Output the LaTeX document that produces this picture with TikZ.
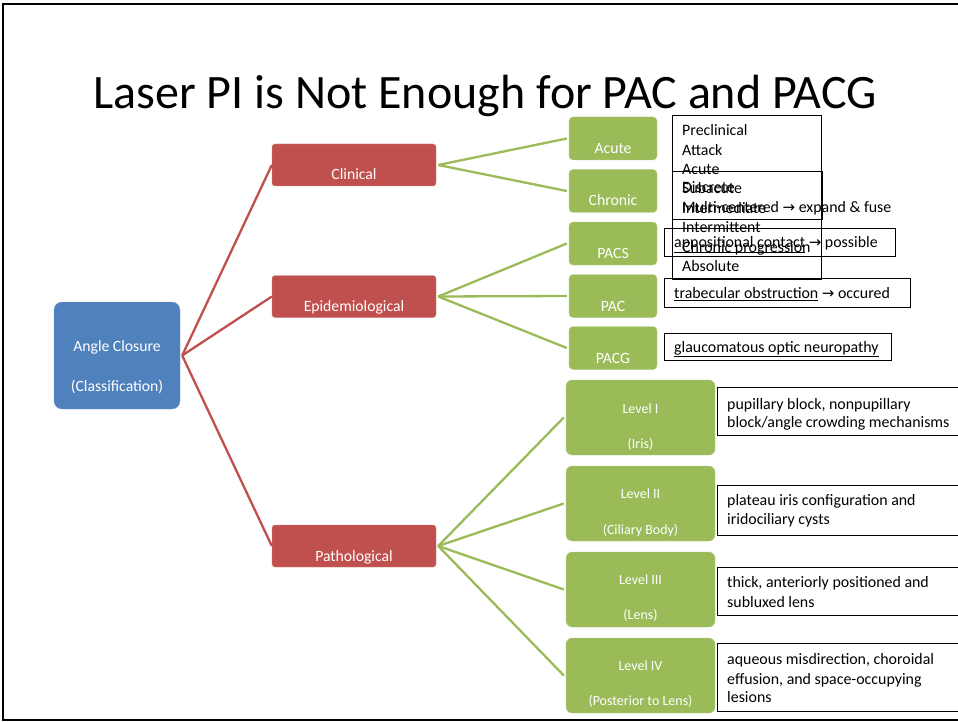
\documentclass[tikz,border=0pt]{standalone}
\usepackage{fontspec}
\setmainfont{Carlito}
\newfontfamily\arrfont{DejaVu Sans}
\definecolor{cblue}{HTML}{4F81BD}
\definecolor{cred}{HTML}{C0504D}
\definecolor{cgreen}{HTML}{9BBB59}
\newcommand{\rarr}{{\arrfont\fontsize{15}{17}\selectfont →}}
\begin{document}
\begin{tikzpicture}[x=1pt,y=-1pt,
  rootbox/.style={fill=cblue,draw=cblue!70!white,rounded corners=8pt,minimum width=126pt,minimum height=107pt,inner sep=0pt},
  redbox/.style={fill=cred,draw=cred!70!white,rounded corners=3pt,minimum width=164pt,minimum height=42pt,inner sep=0pt},
  greenbox/.style={fill=cgreen,draw=cgreen!70!white,rounded corners=4pt,minimum width=88pt,minimum height=43pt,inner sep=0pt},
  levelbox/.style={fill=cgreen,draw=cgreen!70!white,rounded corners=6pt,minimum width=149pt,minimum height=75pt,inner sep=0pt},
  wtext/.style={text=white,font=\fontsize{15.7}{18}\selectfont,inner sep=0pt,text height=13pt,text depth=1pt},
  wsmall/.style={text=white,font=\fontsize{14}{16}\selectfont,inner sep=0pt,text height=12pt,text depth=1pt},
  descbox/.style={draw=black,line width=0.8pt,inner sep=0pt},
  dtext/.style={anchor=west,font=\fontsize{15.9}{19}\selectfont,inner sep=0pt,text height=13pt,text depth=1.5pt},
  redline/.style={draw=cred,line width=2.3pt},
  greenline/.style={draw=cgreen,line width=2.3pt}]
\useasboundingbox (0,0) rectangle (958,722);
\fill[white] (0,0) rectangle (958,722);
% frame
\draw[line width=2pt] (958,4) -- (3,4) -- (3,720) -- (958,720);
% title
\node[font=\fontsize{48}{54}\selectfont,inner sep=0pt] (title) at (485,96) {Laser PI is Not Enough for PAC and PACG};
% root
\node[rootbox] (root) at (117,355.5) {};
\node[wtext] (rootA) at (117,345) {Angle Closure};
\node[wtext] (rootB) at (117,385) {(Classification)};
% red boxes
\node[redbox] (clin) at (354,165) {};
\node[wtext] (clinT) at (354,174) {Clinical};
\node[redbox] (epi) at (354,296.5) {};
\node[wtext] (epiT) at (354,305) {Epidemiological};
\node[redbox] (path) at (354,546) {};
\node[wtext] (pathT) at (354,555) {Pathological};
% green boxes
\node[greenbox] (acute) at (613,138.5) {};
\node[wtext] (acuteT) at (613,148) {Acute};
\node[greenbox] (chron) at (613,191) {};
\node[wtext] (chronT) at (613,200) {Chronic};
\node[greenbox] (pacs) at (613,243.5) {};
\node[wtext] (pacsT) at (613,252) {PACS};
\node[greenbox] (pac) at (613,296) {};
\node[wtext] (pacT) at (613,305) {PAC};
\node[greenbox] (pacg) at (613,348) {};
\node[wtext] (pacgT) at (613,357) {PACG};
% level boxes
\node[levelbox] (l1) at (640.5,417.5) {};
\node[wsmall] (l1a) at (640.5,408) {Level I};
\node[wsmall] (l1b) at (640.5,443) {(Iris)};
\node[levelbox] (l2) at (640.5,503.5) {};
\node[wsmall] (l2a) at (640.5,493) {Level II};
\node[wsmall] (l2b) at (640.5,529) {(Ciliary Body)};
\node[levelbox] (l3) at (640.5,589.5) {};
\node[wsmall] (l3a) at (640.5,579) {Level III};
\node[wsmall] (l3b) at (640.5,614) {(Lens)};
\node[levelbox] (l4) at (640.5,675.5) {};
\node[wsmall] (l4a) at (640.5,665) {Level IV};
\node[wsmall] (l4b) at (640.5,700) {(Posterior to Lens)};
% connectors
\coordinate (rootR) at ([xshift=2pt]root.east);
\draw[redline] (rootR) -- (clin.west);
\draw[redline] (rootR) -- (epi.west);
\draw[redline] (rootR) -- (path.west);
\coordinate (clinR) at ([xshift=2pt]clin.east);
\coordinate (epiR) at ([xshift=2pt]epi.east);
\coordinate (pathR) at ([xshift=2pt]path.east);
\draw[greenline] (clinR) -- ([xshift=-2pt]acute.west);
\draw[greenline] (clinR) -- ([xshift=-2pt]chron.west);
\draw[greenline] (epiR) -- ([xshift=-2pt]pacs.west);
\draw[greenline] (epiR) -- ([xshift=-2pt]pac.west);
\draw[greenline] (epiR) -- ([xshift=-2pt]pacg.west);
\draw[greenline] (pathR) -- ([xshift=-2pt]l1.west);
\draw[greenline] (pathR) -- ([xshift=-2pt]l2.west);
\draw[greenline] (pathR) -- ([xshift=-2pt]l3.west);
\draw[greenline] (pathR) -- ([xshift=-2pt]l4.west);
% description boxes
\node[descbox,minimum width=149pt,minimum height=164pt] (clinlist) at (746.5,197) {};
\node[dtext] (cl1) at (682,130) {Preclinical};
\node[dtext] (cl2) at (682,149.5) {Attack};
\node[dtext] (cl3) at (682,169) {Acute};
\node[dtext] (cl4) at (682,188) {Subacute};
\node[dtext] (cl5) at (682,207.5) {Intermediate};
\node[dtext] (cl6) at (682,227) {Intermittent};
\node[dtext] (cl7) at (682,246.5) {Chronic progression};
\node[dtext] (cl8) at (682,266) {Absolute};
\node[descbox,minimum width=150pt,minimum height=48pt] (chrlist) at (747,195) {};
\node[dtext] (ch1) at (682,187) {Discrete};
\node[dtext] (ch2) at (682,207) {Multi-centered \rarr{} expand \& fuse};
\node[descbox,minimum width=231pt,minimum height=28pt] (pacsd) at (779.5,242) {};
\node[dtext] (pacsdT) at (674,242) {\underline{appositional contact} \rarr{} possible};
\node[descbox,minimum width=246pt,minimum height=29pt] (pacd) at (787,292.5) {};
\node[dtext] (pacdT) at (674,292.5) {\underline{trabecular obstruction} \rarr{} occured};
\node[descbox,minimum width=227pt,minimum height=27pt] (pacgd) at (777.5,346.5) {};
\node[dtext] (pacgdT) at (674,346.5) {\underline{glaucomatous optic neuropathy}};
% level descriptions
\draw[line width=0.8pt] (960,387) -- (717,387) -- (717,435) -- (960,435);
\node[dtext] (d1a) at (727,404) {pupillary block, nonpupillary};
\node[dtext] (d1b) at (727,422) {block/angle crowding mechanisms};
\draw[line width=0.8pt] (960,485) -- (717,485) -- (717,535) -- (960,535);
\node[dtext] (d2a) at (727,500) {plateau iris configuration and};
\node[dtext] (d2b) at (727,519) {iridociliary cysts};
\draw[line width=0.8pt] (960,567) -- (717,567) -- (717,615) -- (960,615);
\node[dtext] (d3a) at (727,582) {thick, anteriorly positioned and};
\node[dtext] (d3b) at (727,602) {subluxed lens};
\draw[line width=0.8pt] (960,643) -- (717,643) -- (717,711) -- (960,711);
\node[dtext] (d4a) at (727,659) {aqueous misdirection, choroidal};
\node[dtext] (d4b) at (727,679) {effusion, and space-occupying};
\node[dtext] (d4c) at (727,697) {lesions};
\end{tikzpicture}
\end{document}
